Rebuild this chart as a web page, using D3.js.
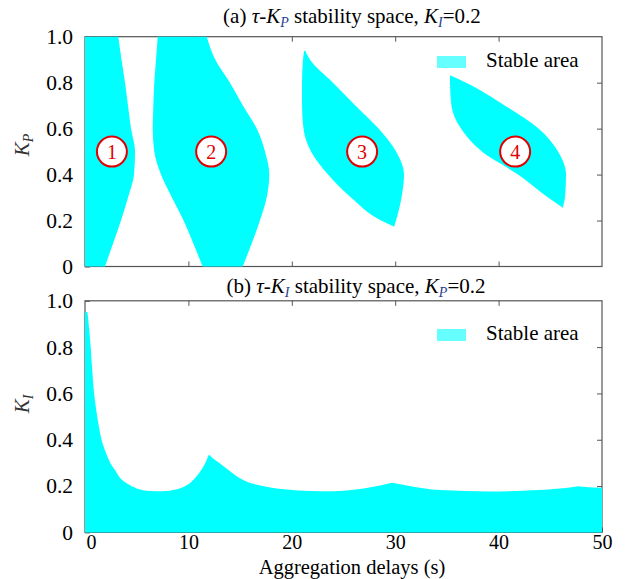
<!DOCTYPE html>
<html>
<head>
<meta charset="utf-8">
<script src="https://cdn.jsdelivr.net/npm/d3@7"></script>
<style>
  body { margin: 0; background: #fff; }
</style>
</head>
<body>
<div id="chart"></div>
<script>
const width = 632
const height = 579

// (a) tau-KP stability regions: [KP, tau left edge, tau right edge]
const region1 = [[0, 0, 1.93], [0.1, 0, 2.71], [0.2, 0, 3.48], [0.3, 0, 4.16], [0.4, 0, 4.74],
  [0.5, 0, 4.84], [0.6, 0, 4.45], [0.7, 0, 4.16], [0.8, 0, 3.87], [0.9, 0, 3.53], [1.0, 0, 3.22]]
const region2 = [[0, 11.38, 15.25], [0.1, 10.48, 16.12], [0.2, 9.53, 16.92], [0.3, 8.41, 17.57],
  [0.4, 7.35, 17.82], [0.5, 6.70, 17.41], [0.6, 6.55, 16.61], [0.7, 6.61, 15.28],
  [0.8, 6.70, 14.02], [0.9, 6.87, 12.6], [1.0, 7.03, 11.77]]
const region3 = [[0.173, 29.9, 29.9], [0.2, 28.63, 30.08], [0.3, 25.73, 30.61], [0.4, 23.50, 30.85],
  [0.5, 21.86, 30.08], [0.6, 21.13, 28.39], [0.7, 20.99, 26.17], [0.8, 20.99, 23.98],
  [0.9, 21.08, 21.76], [0.939, 21.2, 21.3]]
const region4 = [[0.256, 46.2, 46.2], [0.3, 44.78, 46.42], [0.4, 41.88, 46.52], [0.5, 38.39, 45.74],
  [0.6, 36.36, 43.86], [0.7, 35.44, 40.62], [0.8, 35.30, 36.85], [0.831, 35.30, 35.35]]
const regionLabels = ['1', '2', '3', '4']
const labelTau = [2.6, 12.2, 26.8, 41.6]
const labelK = [0.5, 0.5, 0.5, 0.5]

// (b) tau-KI stability boundary
const tauI = [0, 0.2, 0.4, 0.55, 0.7, 0.85, 1.05, 1.29, 1.6, 1.93, 2.45, 2.9, 3.4, 4.03, 5.0,
  6.29, 7.5, 8.87, 10.47, 11.44, 11.75, 12.0, 12.3, 13.06, 15.31, 17.57, 19.5, 21.76, 24.0,
  26.6, 27.88, 29.4, 29.7, 30.1, 31.11, 34.33, 39.17, 42.39, 45.62, 47.4, 47.7, 48.1, 50]
const kiEdge = [0.952, 0.952, 0.88, 0.80, 0.70, 0.614, 0.54, 0.47, 0.40, 0.355, 0.30, 0.269,
  0.235, 0.212, 0.19, 0.179, 0.178, 0.186, 0.226, 0.283, 0.31, 0.334, 0.322, 0.298, 0.226,
  0.197, 0.185, 0.179, 0.178, 0.187, 0.197, 0.211, 0.214, 0.211, 0.203, 0.183, 0.177, 0.180,
  0.188, 0.197, 0.199, 0.197, 0.193]

const xTicks = [0, 10, 20, 30, 40, 50]
const yTicks = [0, 0.2, 0.4, 0.6, 0.8, 1.0]

const fillColor = '#00ffff'
const legendColor = '#66ffff'
const frameColor = '#555'
const serif = 'Liberation Serif'

// put the serif face on a text node, as attribute and as style
const face = (sel, size) => sel
  .attr('font-family', serif)
  .style('font-family', `"${serif}"`)
  .style('font-size', size + 'px')

const svg = d3.select('#chart').append('svg')
  .attr('width', width)
  .attr('height', height)

const x = d3.scaleLinear().domain([0, 50]).range([85, 602])
const yA = d3.scaleLinear().domain([0, 1]).range([266.5, 36.7])
const yB = d3.scaleLinear().domain([0, 1]).range([532.4, 300.8])

const fmtY = d => d === 0 ? '0' : d3.format('.1f')(d)

function frame (g, y, showX) {
  g.append('rect')
    .attr('x', x(0)).attr('y', y(1))
    .attr('width', x(50) - x(0)).attr('height', y(0) - y(1))
    .attr('fill', 'none').attr('stroke', frameColor).attr('stroke-width', 1.2)

  const inner = [10, 20, 30, 40]
  g.append('g').attr('transform', `translate(0,${y(1)})`)
    .call(d3.axisTop(x).tickValues(inner).tickSize(-5).tickFormat(''))
  g.append('g').attr('transform', `translate(${x(50)},0)`)
    .call(d3.axisRight(y).tickValues([0.2, 0.4, 0.6, 0.8]).tickSize(-5).tickFormat(''))
  const left = g.append('g').attr('transform', `translate(${x(0)},0)`)
    .call(d3.axisLeft(y).tickValues(yTicks).tickSize(-5).tickPadding(12).tickFormat(fmtY))
  const bottom = g.append('g').attr('transform', `translate(0,${y(0)})`)
    .call(d3.axisBottom(x).tickValues(showX ? xTicks : inner).tickSize(-5).tickPadding(2)
      .tickFormat(showX ? d3.format('d') : ''))

  g.selectAll('.domain').remove()
  g.selectAll('g').attr('font-family', serif).attr('font-size', 21)
  g.selectAll('.tick line').attr('stroke', frameColor)
  face(left.selectAll('.tick text').attr('fill', '#000'), 21.5)
  face(bottom.selectAll('.tick text').attr('fill', '#000'), 20)
  bottom.selectAll('.tick text').filter(d => d === 0).attr('dx', 6)
}

const gA = svg.append('g')
const gB = svg.append('g')
frame(gA, yA, false)
frame(gB, yB, true)

// stability regions of panel (a)
const lobe = d3.area()
  .y(d => yA(d[0]))
  .x0(d => x(d[1]))
  .x1(d => x(d[2]))
  .curve(d3.curveMonotoneY)

gA.selectAll('path.region')
  .data([region1, region2, region3, region4])
  .enter()
  .append('path')
    .attr('class', 'region')
    .attr('d', lobe)
    .attr('fill', fillColor)

const marks = gA.selectAll('g.mark')
  .data(regionLabels)
  .enter()
  .append('g')
    .attr('class', 'mark')
    .attr('transform', (d, i) => `translate(${x(labelTau[i])},${yA(labelK[i])})`)
marks.append('circle')
  .attr('r', 15)
  .attr('fill', '#fff')
  .attr('stroke', '#e00000')
  .attr('stroke-width', 2)
face(marks.append('text'), 20)
  .attr('text-anchor', 'middle')
  .attr('dy', '0.35em')
  .attr('fill', '#e00000')
  .text(d => d)

// stability region of panel (b)
const edge = d3.area()
  .x(d => x(d[0]))
  .y0(yB(0))
  .y1(d => yB(d[1]))
  .curve(d3.curveMonotoneX)

gB.append('path')
  .datum(tauI.map((t, i) => [t, kiEdge[i]]))
  .attr('d', edge)
  .attr('fill', fillColor)

// legends
function legend (g, ry, ty) {
  g.append('rect')
    .attr('x', 437).attr('y', ry)
    .attr('width', 29).attr('height', 12)
    .attr('fill', legendColor)
  face(g.append('text'), 21)
    .attr('x', 486).attr('y', ty)
    .text('Stable area')
}
legend(gA, 56, 67)
legend(gB, 329, 340)

// titles
function title (cx, by, label, sub1, sub2) {
  const t = face(svg.append('text'), 21)
    .attr('x', cx).attr('y', by)
    .attr('text-anchor', 'middle')
  t.append('tspan').text(label + ' ')
  t.append('tspan').style('font-style', 'italic').text('τ')
  t.append('tspan').text('-')
  t.append('tspan').style('font-style', 'italic').text('K')
  t.append('tspan').style('font-style', 'italic').style('font-size', '14px')
    .attr('dy', 4).attr('fill', '#1f3f8f').text(sub1)
  t.append('tspan').attr('dy', -4).text(' stability space, ')
  t.append('tspan').style('font-style', 'italic').text('K')
  t.append('tspan').style('font-style', 'italic').style('font-size', '14px')
    .attr('dy', 4).attr('fill', '#1f3f8f').text(sub2)
  t.append('tspan').attr('dy', -4).text('=0.2')
}
title(352, 23, '(a)', 'P', 'I')
title(356, 293, '(b)', 'I', 'P')

// y labels
function ylabel (cy, sub) {
  const t = face(svg.append('text'), 21)
    .attr('transform', `translate(29,${cy}) rotate(-90)`)
    .attr('text-anchor', 'middle')
    .attr('fill', '#333')
    .style('font-style', 'italic')
  t.append('tspan').text('K')
  t.append('tspan').style('font-size', '14px').attr('dy', 4).text(sub)
}
ylabel(145, 'P')
ylabel(404, 'I')

face(svg.append('text'), 20.5)
  .attr('x', 352).attr('y', 573.5)
  .attr('text-anchor', 'middle')
  .text('Aggregation delays (s)')
</script>
</body>
</html>
